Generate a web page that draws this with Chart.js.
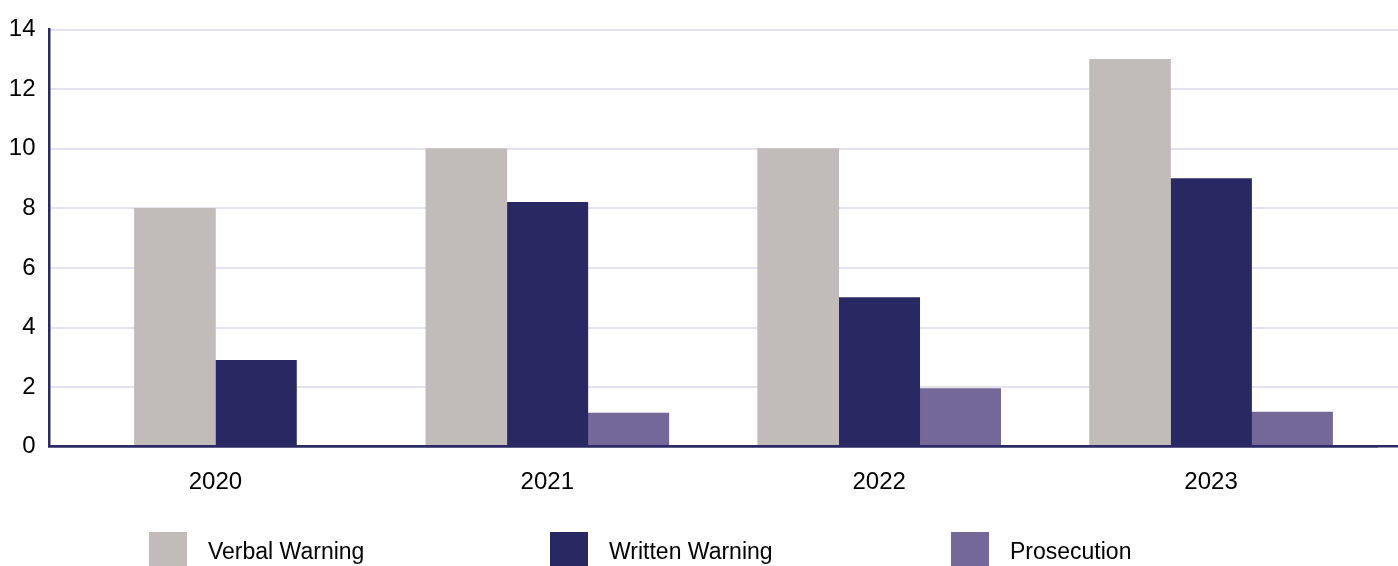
<!DOCTYPE html>
<html>
<head>
<meta charset="utf-8">
<title>Warnings and prosecutions</title>
<script src="https://cdn.jsdelivr.net/npm/chart.js@4"></script>
<style>
  html, body { margin: 0; padding: 0; background: #fff; }
  #wrap {
    position: relative;
    width: 1398px;
    height: 566px;
    overflow: hidden;
    font-family: "Liberation Sans", Arial, sans-serif;
  }
  #chart-wrap { position: absolute; left: 0; top: 0; width: 1398px; height: 566px; }
  #legend {
    position: absolute;
    left: 149px;
    top: 532px;
    display: flex;
  }
  .legend-item { width: 401px; display: flex; align-items: center; }
  .legend-box { width: 38px; height: 38px; margin-right: 21px; }
  .legend-item span { font-size: 23px; color: #000; }
</style>
</head>
<body>
<div id="wrap">
  <div id="chart-wrap"><canvas id="chart-acoes"></canvas></div>
  <div id="legend"></div>
</div>
<script>
// ===============================
// Dados
// ===============================
const anos = ["2020", "2021", "2022", "2023"];
const verbalWarning = [8, 10, 10, 13];
const writtenWarning = [2.9, 8.2, 5, 9];
const prosecution = [null, 1.13, 1.95, 1.16]; // 2020 sem registro

const serieNomes = ["Verbal Warning", "Written Warning", "Prosecution"];
const serieCores = ["#c1bcb9", "#282862", "#736897"];

const COR_EIXO = "#2b2a66";
const COR_GRADE = "#e4e2ee";
const FONTE = "'Liberation Sans', Arial, sans-serif";

let chartAcoes;

// a faixa das categorias termina antes da borda direita,
// mas a grade horizontal continua até o fim
const recuoCategorias = {
  id: "recuoCategorias",
  afterLayout(chart) {
    const x = chart.scales.x;
    x.right = chart.chartArea.right - 21;
    x.width = x.right - x.left;
    x.configure();
  }
};

document.addEventListener("DOMContentLoaded", () => {
  montarLegenda();
  montarGrafico();
});

function montarLegenda() {
  const legenda = document.getElementById("legend");
  serieNomes.forEach((nome, i) => {
    const div = document.createElement("div");
    div.className = "legend-item";
    div.innerHTML = `<div class="legend-box" style="background:${serieCores[i]}"></div><span>${nome}</span>`;
    legenda.appendChild(div);
  });
}

function montarGrafico() {
  const ctx = document.getElementById("chart-acoes");
  const series = [verbalWarning, writtenWarning, prosecution];

  chartAcoes = new Chart(ctx, {
    type: "bar",
    data: {
      labels: anos,
      datasets: series.map((valores, i) => ({
        label: serieNomes[i],
        data: valores,
        backgroundColor: serieCores[i],
        borderWidth: 0,
        barThickness: 81,
        skipNull: true
      }))
    },
    options: {
      responsive: true,
      maintainAspectRatio: false,
      animation: false,
      layout: { padding: { top: 29.5, right: 0, bottom: 48.5, left: 0 } },
      plugins: {
        legend: { display: false },
        tooltip: { enabled: false }
      },
      scales: {
        x: {
          grid: { display: false, drawTicks: false },
          border: { display: true, color: COR_EIXO, width: 2.5, z: 1 },
          ticks: { padding: 21, color: "#000", font: { family: FONTE, size: 24 } }
        },
        y: {
          min: 0,
          max: 14,
          afterFit: scale => { scale.width = 49.5; },
          ticks: { stepSize: 2, padding: 14, color: "#000", font: { family: FONTE, size: 24 } },
          grid: {
            drawTicks: false,
            color: c => (c.tick && c.tick.value === 0 ? COR_EIXO : COR_GRADE),
            lineWidth: c => (c.tick && c.tick.value === 0 ? 2.5 : 2)
          },
          border: { color: COR_EIXO, width: 2.5 }
        }
      }
    },
    plugins: [recuoCategorias]
  });
}
</script>
</body>
</html>
